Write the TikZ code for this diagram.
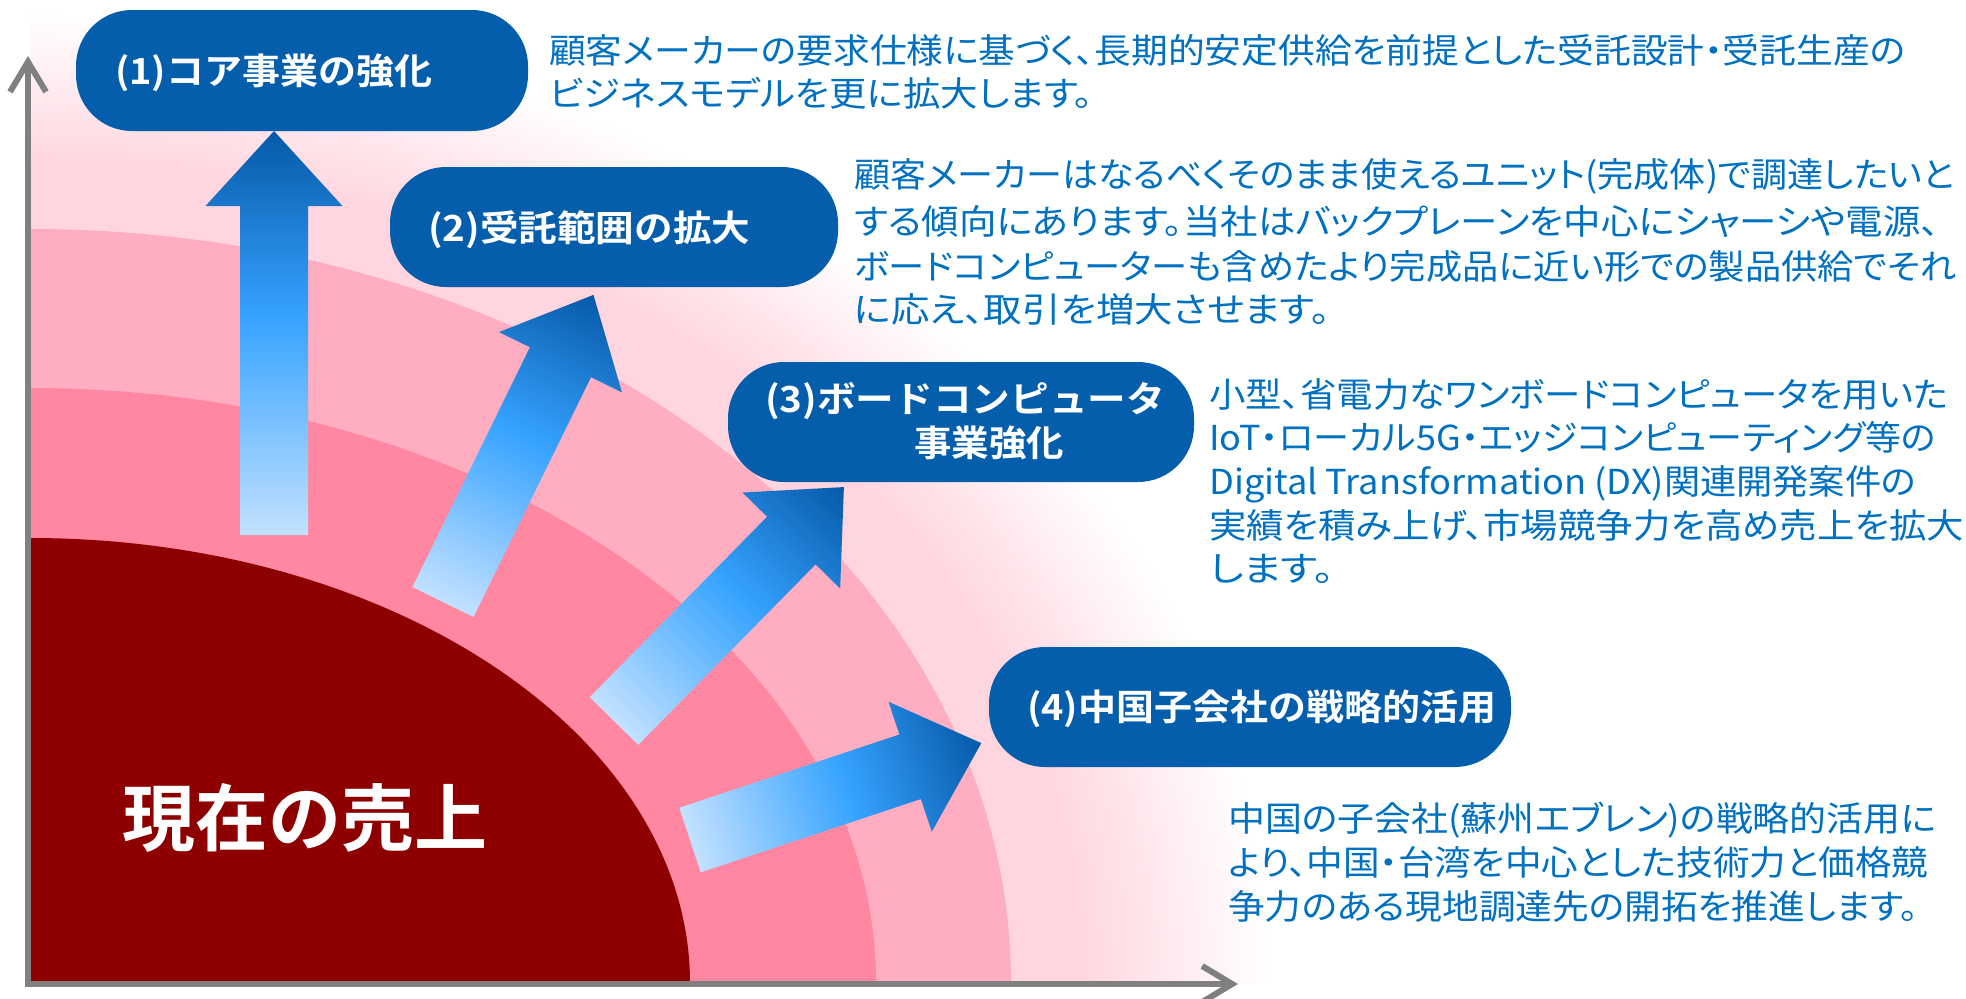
\documentclass[tikz,border=0pt]{standalone}
\usepackage{fontspec}
\usepackage{graphicx}
\newfontfamily\jp{Noto Sans CJK JP}[BoldFont={Noto Sans CJK JP Bold}]
\newfontfamily\jpp{Noto Sans CJK JP}[RawFeature=+palt]
\usetikzlibrary{arrows.meta}
\definecolor{pinkL}{HTML}{FFD5DF}
\definecolor{pinkM}{HTML}{FFADC1}
\definecolor{pinkD}{HTML}{FF87A1}
\definecolor{darkred}{HTML}{8E0000}
\definecolor{boxblue}{HTML}{055EAB}
\definecolor{txtblue}{HTML}{0070C0}
\definecolor{axisgray}{HTML}{808080}
\definecolor{arLight}{HTML}{C2E1FF}
\definecolor{arMid}{HTML}{36A3FF}
\definecolor{arDark}{HTML}{0659A8}
\pgfdeclareradialshading{glow}{\pgfpoint{0bp}{0bp}}{color(0bp)=(pinkL); color(21bp)=(pinkL); color(25bp)=(white); color(50bp)=(white)}
\pgfdeclarehorizontalshading{arrowgrad}{100bp}{color(0bp)=(arLight); color(25bp)=(arLight); color(52bp)=(arMid); color(75bp)=(arDark); color(100bp)=(arDark)}
\newcommand\bigarr[4]{%
  \begin{scope}[transform canvas={shift={(#1pt,-#2pt)},rotate=#3}]
    \shade[shading=arrowgrad] (0,-34) -- ({#4-75},-34) -- ({#4-75},-68.5) -- (#4,0)
      -- ({#4-75},68.5) -- ({#4-75},34) -- (0,34) -- cycle;
  \end{scope}}
\newcommand\fitline[2]{\resizebox{#1pt}{\height}{#2}}
\tikzset{
  pill/.style={fill=boxblue, rounded corners=56pt, inner sep=0pt},
  boxtext/.style={anchor=west, inner sep=0pt, text=white,
    font=\jp\bfseries\fontsize{36}{43}\selectfont, text height=30pt, text depth=2pt},
  desc/.style={anchor=west, inner sep=0pt, text=txtblue,
    font=\jpp\fontsize{34.4}{41}\selectfont, text height=28pt, text depth=2pt},
  bigtext/.style={inner sep=0pt, text=white,
    font=\jp\bfseries\fontsize{73}{80}\selectfont, text height=57pt, text depth=2pt},
  axisline/.style={draw=axisgray, line width=6pt, -{Straight Barb[length=30pt,width=36pt]}},
}
\begin{document}
\begin{tikzpicture}[x=1pt,y=-1pt]
\useasboundingbox (0,0) rectangle (1966,999);
\fill[white] (0,0) rectangle (1966,999);
% background bands
\begin{scope}
  \clip (30,0) rectangle (1966,983);
  \shade[shading=glow] (30,983) ellipse [x radius=1240, y radius=970];
  \fill[pinkM] (30,983) ellipse [x radius=981, y radius=754];
  \fill[pinkD] (30,983) ellipse [x radius=846, y radius=595];
  \fill[darkred] (30,983) ellipse [x radius=660, y radius=445];
\end{scope}
% axes
\coordinate (yfoot) at (28,987);
\coordinate (ytop) at (28,56);
\coordinate (xfoot) at (25,984);
\coordinate (xend) at (1238,984);
\draw[axisline] (yfoot) -- (ytop);
\draw[axisline] (xfoot) -- (xend);
% block arrows
\bigarr{274}{535}{90}{404}
\bigarr{443}{602}{63.9}{342}
\bigarr{614}{721}{45.5}{328}
\bigarr{690}{840}{18.4}{307}
% boxes
\node[pill, minimum width=452pt, minimum height=121pt] (b1) at (302,70.5) {};
\node[pill, minimum width=448pt, minimum height=120pt] (b2) at (614,227) {};
\node[pill, minimum width=466pt, minimum height=120pt] (b3) at (961,422) {};
\node[pill, minimum width=522pt, minimum height=120pt] (b4) at (1250,707) {};
\node[boxtext] (l1) at (115,70) {\fitline{317}{(1)コア事業の強化}};
\node[boxtext] (l2) at (428,227) {\fitline{322}{(2)受託範囲の拡大}};
\node[boxtext] (l3a) at (765,398) {\fitline{400}{(3)ボードコンピュータ}};
\node[boxtext] (l3b) at (914,442) {\fitline{150}{事業強化}};
\node[boxtext] (l4) at (1027,706) {\fitline{469}{(4)中国子会社の戦略的活用}};
% big label
\node[bigtext] (now) at (305,818) {現在の売上};
% descriptions
\node[desc] (t1a) at (549,50) {\fitline{1356}{顧客メーカーの要求仕様に基づく、長期的安定供給を前提とした受託設計・受託生産の}};
\node[desc] (t1b) at (549,93) {\fitline{544}{ビジネスモデルを更に拡大します。}};
\node[desc] (t2a) at (854,174) {\fitline{1100}{顧客メーカーはなるべくそのまま使えるユニット(完成体)で調達したいと}};
\node[desc] (t2b) at (854,221) {\fitline{1085}{する傾向にあります。当社はバックプレーンを中心にシャーシや電源、}};
\node[desc] (t2c) at (854,266) {\fitline{1102}{ボードコンピューターも含めたより完成品に近い形での製品供給でそれ}};
\node[desc] (t2d) at (854,309) {\fitline{476}{に応え、取引を増大させます。}};
\node[desc] (t3a) at (1209,394) {\fitline{739}{小型、省電力なワンボードコンピュータを用いた}};
\node[desc] (t3b) at (1209,437) {\fitline{727}{IoT・ローカル5G・エッジコンピューティング等の}};
\node[desc] (t3c) at (1209,481) {\fitline{707}{Digital Transformation (DX)関連開発案件の}};
\node[desc] (t3d) at (1209,525) {\fitline{755}{実績を積み上げ、市場競争力を高め売上を拡大}};
\node[desc] (t3e) at (1209,568) {\fitline{125}{します。}};
\node[desc] (t4a) at (1228,818) {\fitline{708}{中国の子会社(蘇州エブレン)の戦略的活用に}};
\node[desc] (t4b) at (1228,862) {\fitline{700}{より、中国・台湾を中心とした技術力と価格競}};
\node[desc] (t4c) at (1228,906) {\fitline{690}{争力のある現地調達先の開拓を推進します。}};
\end{tikzpicture}
\end{document}
